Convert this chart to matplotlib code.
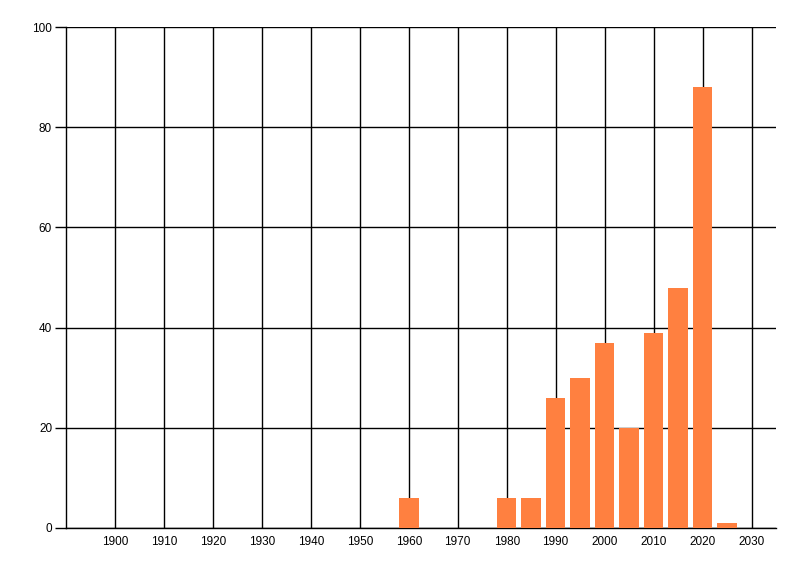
import matplotlib.pyplot as plt

# data
years = [1960, 1980, 1985, 1990, 1995, 2000, 2005, 2010, 2015, 2020, 2025]
counts = [6, 6, 6, 26, 30, 37, 20, 39, 48, 88, 1]
x_ticks = list(range(1900, 2031, 10))
y_ticks = [0, 20, 40, 60, 80, 100]

plt.rcParams['font.family'] = ['Liberation Sans', 'DejaVu Sans']

fig = plt.figure(figsize=(8, 5.76), dpi=100)
ax = fig.add_axes([66 / 800, 48 / 576, 710 / 800, 501 / 576])

ax.bar(years, counts, width=4, color='#FF8040', zorder=3)

ax.set_xlim(1890, 2035)
ax.set_ylim(0, 100)
ax.set_xticks(x_ticks)
ax.set_yticks(y_ticks)
ax.tick_params(axis='x', length=0, pad=6, labelsize=8.5)
ax.tick_params(axis='y', length=8, width=1, pad=2, labelsize=8.5)

ax.grid(True, color='black', linewidth=1, zorder=1)
ax.set_axisbelow(True)
for side in ['top', 'right']:
    ax.spines[side].set_visible(False)
for side in ['left', 'bottom']:
    ax.spines[side].set_linewidth(1)

fig.savefig('out.png', dpi=100)
